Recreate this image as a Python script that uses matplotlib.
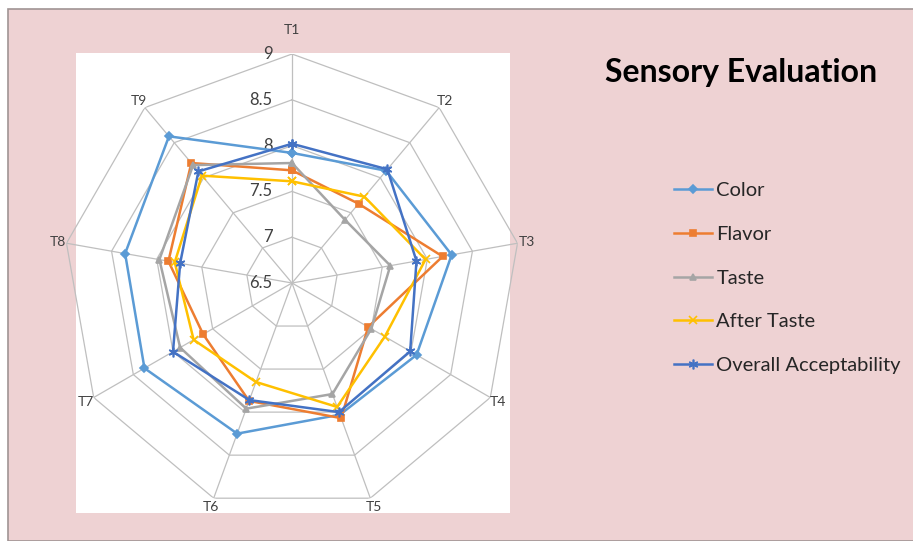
"""
Sensory evaluation radar chart for treatments T1-T9
"""

import numpy as np
import matplotlib.pyplot as plt
from matplotlib.patches import Rectangle
from matplotlib.transforms import offset_copy

plt.rcParams['font.family'] = ['Lato', 'DejaVu Sans']

treatments = ['T1', 'T2', 'T3', 'T4', 'T5', 'T6', 'T7', 'T8', 'T9']
color_scores = [7.92, 8.10, 8.27, 8.07, 8.03, 8.25, 8.36, 8.35, 8.59]
flavor_scores = [7.73, 7.63, 8.17, 7.46, 8.07, 7.87, 7.62, 7.87, 8.21]
taste_scores = [7.81, 7.40, 7.59, 7.50, 7.79, 7.96, 7.91, 7.97, 8.18]
after_taste_scores = [7.61, 7.73, 7.98, 7.67, 7.94, 7.65, 7.74, 7.80, 8.03]
overall_scores = [8.02, 8.12, 7.88, 7.99, 8.00, 7.86, 8.00, 7.74, 8.09]

series_names = ['Color', 'Flavor', 'Taste', 'After Taste', 'Overall Acceptability']
series_values = [color_scores, flavor_scores, taste_scores, after_taste_scores, overall_scores]
series_colors = ['#5B9BD5', '#ED7D31', '#A5A5A5', '#FFC000', '#4472C4']
series_markers = ['D', 's', '^', 'x', (6, 2, 0)]
marker_sizes = [4, 5, 5, 6, 7]

ring_values = [6.5, 7, 7.5, 8, 8.5, 9]
r_min, r_max = 6.5, 9

W, H = 913, 541
fig = plt.figure(figsize=(W / 100, H / 100), dpi=100)
fig.patch.set_facecolor('white')

# pink chart area with a thin border, and the white plot area behind the axes
fig.patches.append(Rectangle((8 / W, 0), 1, 1 - 9 / H, transform=fig.transFigure,
                             facecolor='#EED2D3', edgecolor='#A09494', lw=1.2, zorder=-3))
fig.patches.append(Rectangle((76 / W, 1 - 513 / H), 434 / W, 460 / H, transform=fig.transFigure,
                             facecolor='white', edgecolor='none', zorder=-2))

cx, cy, rad = 292, 283, 229
ax = fig.add_axes([(cx - rad) / W, 1 - (cy + rad) / H, 2 * rad / W, 2 * rad / H],
                  projection='polar')
ax.set_facecolor('none')
ax.set_theta_zero_location('N')
ax.set_theta_direction(-1)
ax.set_ylim(r_min, r_max)
ax.grid(False)
ax.spines['polar'].set_visible(False)
ax.set_xticks([])
ax.set_yticks([])

angles = np.linspace(0, 2 * np.pi, len(treatments), endpoint=False)
closed = np.append(angles, angles[0])

# polygon gridlines and spokes
for v in ring_values[1:]:
    ax.plot(closed, [v] * len(closed), color='#BFBFBF', lw=0.9, zorder=1)
for a in angles:
    ax.plot([a, a], [r_min, r_max], color='#BFBFBF', lw=0.9, zorder=1)

# radial value labels along the T1 spoke
lab_tr = offset_copy(ax.transData, fig=fig, x=-14, y=0, units='points')
for v in ring_values:
    ax.text(0, v, f'{v:g}', transform=lab_tr, ha='right', va='center',
            fontsize=12, color='#404040')

# treatment labels around the outside
for a, name in zip(angles, treatments):
    r_lab = 9.26 if name == 'T1' else 9.1
    ax.text(a, r_lab, name, ha='center', va='center', fontsize=10,
            color='#404040', clip_on=False)

for name, vals, c, m, ms in zip(series_names, series_values, series_colors,
                                 series_markers, marker_sizes):
    vals_closed = np.append(vals, vals[0])
    ax.plot(closed, vals_closed, color=c, lw=1.8, marker=m, markersize=ms,
            markeredgewidth=1.2, label=name, zorder=3, clip_on=False)

fig.text(741 / W, 1 - 73 / H, 'Sensory Evaluation', ha='center', va='center',
         fontsize=23, fontweight='bold', color='black')

fig.legend(loc='center left', bbox_to_anchor=(674 / W, 1 - 278 / H), frameon=False,
           fontsize=14.5, handlelength=1.9, handletextpad=0.2, labelspacing=1.33,
           borderpad=0, borderaxespad=0, labelcolor='#262626')

fig.savefig('out.png', dpi=100, facecolor=fig.get_facecolor())
